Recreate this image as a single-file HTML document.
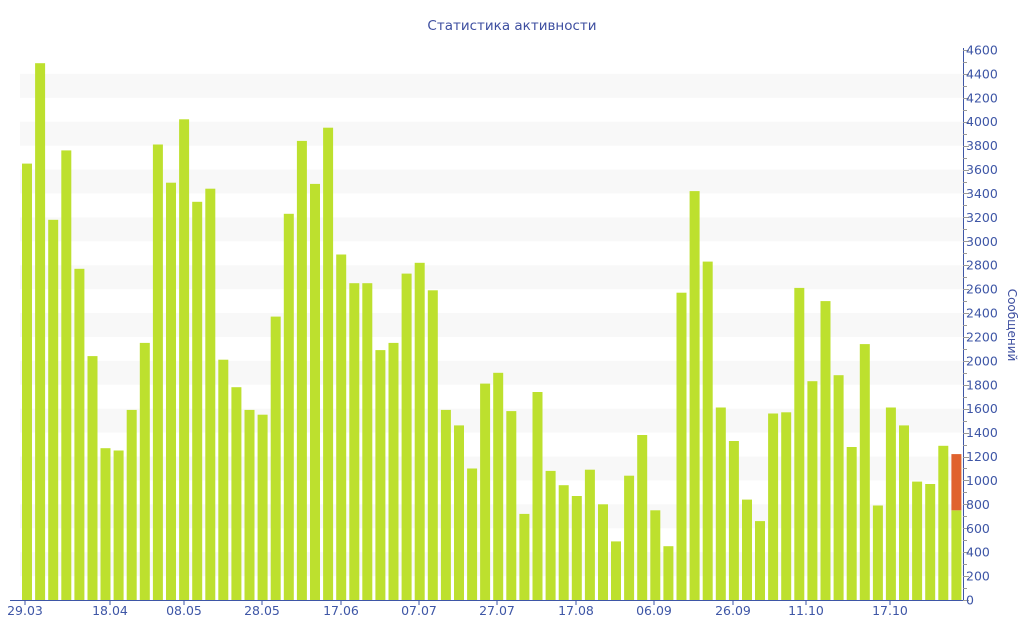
<!DOCTYPE html>
<html><head><meta charset="utf-8"><style>
html,body{margin:0;padding:0;background:#fff;}
svg{display:block;font-family:"DejaVu Sans","Liberation Sans",sans-serif;}
</style></head><body>
<svg id="c" width="1024" height="640" xmlns="http://www.w3.org/2000/svg">
<text x="512" y="30" text-anchor="middle" font-size="13.5" fill="#3e4fa0">Статистика активности</text>
<text transform="translate(1008,325) rotate(90)" text-anchor="middle" font-size="12" fill="#3e4fa0">Сообщений</text>
<g id="g"></g>
</svg>
<script>
var vals=[3650,4490,3180,3760,2770,2040,1270,1250,1590,2150,3810,3490,4020,3330,3440,2010,1780,1590,1550,2370,3230,3840,3480,3950,2890,2650,2650,2090,2150,2730,2820,2590,1590,1460,1100,1810,1900,1580,720,1740,1080,960,870,1090,800,490,1040,1380,750,450,2570,3420,2830,1610,1330,840,660,1560,1570,2610,1830,2500,1880,1280,2140,790,1610,1460,990,970,1290,750];
var s='',y0=600,k=550/4600;
function Y(v){return y0-v*k;}
for(var v=200;v<4600;v+=400){s+='<rect x="20" y="'+Y(v+200)+'" width="943" height="'+(200*k)+'" fill="#f8f8f8"/>';}
for(var i=0;i<vals.length;i++){var x=22+i*13.09;
 s+='<rect x="'+x.toFixed(1)+'" y="'+Y(vals[i]).toFixed(1)+'" width="10" height="'+(vals[i]*k).toFixed(1)+'" fill="#bde02e"/>';}
var xl=22+71*13.09;
s+='<rect x="'+xl.toFixed(1)+'" y="'+Y(1220).toFixed(1)+'" width="10" height="'+((1220-750)*k).toFixed(1)+'" fill="#e0622e"/>';
s+='<line x1="963.5" y1="48" x2="963.5" y2="600" stroke="#3e56a6" stroke-width="1"/>';
s+='<line x1="10" y1="600.5" x2="964" y2="600.5" stroke="#3e56a6" stroke-width="1"/>';
for(var v=0;v<=4600;v+=100){var yy=Math.round(Y(v))+0.5;s+='<line x1="963" y1="'+yy+'" x2="'+(v%200==0?969:967)+'" y2="'+yy+'" stroke="#999"/>';
 if(v%200==0)s+='<text x="966" y="'+(Y(v)+4.5)+'" font-size="12.5" fill="#3e56a6">'+v+'</text>';}
var L=[["29.03",25],["18.04",110],["08.05",184],["28.05",262],["17.06",341],["07.07",419],["27.07",497],["17.08",576],["06.09",654],["26.09",733],["11.10",806],["17.10",890]];
L.forEach(function(l){s+='<line x1="'+l[1]+'" y1="600" x2="'+l[1]+'" y2="605" stroke="#3e56a6"/><text x="'+l[1]+'" y="615" text-anchor="middle" font-size="12.5" fill="#3e56a6">'+l[0]+'</text>';});
document.getElementById('g').innerHTML=s;
</script>
</body></html>
